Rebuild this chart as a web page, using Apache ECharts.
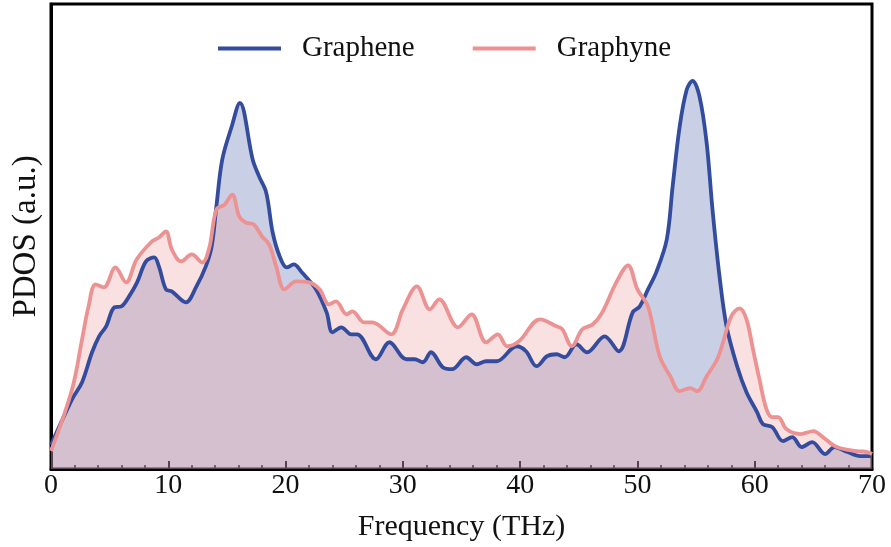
<!DOCTYPE html>
<html>
<head>
<meta charset="utf-8">
<script src="https://cdn.jsdelivr.net/npm/echarts@6/dist/echarts.min.js"></script>
<style>
  html, body { margin: 0; padding: 0; background: #fff; }
  #chart { width: 891px; height: 547px; }
</style>
</head>
<body>
<div id="chart"></div>
<script>
// frequency (THz) and PDOS (a.u.)
const grapheneFreq = [0, 1.8, 2.65, 3.5, 4.1, 4.7, 5.4, 6.0, 6.66, 7.34, 8.1, 8.8, 9.2, 9.8, 10.3, 11.5, 12.4, 13.2, 13.7,
  14.1, 14.6, 15.4, 16.1, 17.2, 17.75, 18.35, 18.9, 19.5, 20.1, 20.7, 21.4, 22.6, 23.5, 24.0, 24.75, 25.6, 26.1,
  27.7, 28.85, 30.3, 31.0, 31.7, 32.4, 33.4, 34.2, 35.4, 36.3, 37.1, 38.0, 39.7, 40.5, 41.4, 42.3, 43.1, 43.8,
  44.8, 45.7, 47.2, 48.4, 49.6, 50.2, 50.9, 51.6, 52.5, 53.0, 53.6, 54.2, 54.7, 55.3, 55.9, 56.4, 57.0, 57.6,
  58.5, 59.3, 60.2, 60.7, 61.5, 62.4, 63.2, 64.0, 64.9, 66.0, 66.8, 67.9, 69.0, 70];
const grapheneVal = [24, 70, 87, 117, 133, 143, 162, 163, 173, 187, 208, 212, 203, 180, 178, 167, 183, 203, 223,
  263, 310, 343, 367, 310, 293, 277, 237, 213, 202, 205, 197, 180, 157, 137, 142, 135, 135,
  110, 127, 110, 110, 107, 117, 102, 100, 112, 105, 108, 108, 123, 118, 103, 113, 115, 112,
  125, 117, 133, 118, 157, 163, 180, 197, 230, 283, 343, 380, 389, 373, 327, 260, 193, 143,
  103, 77, 57, 45, 42, 28, 32, 22, 27, 15, 22, 17, 13, 13];

const graphyneFreq = [0, 1.8, 2.65, 3.2, 3.8, 4.5, 5.5, 6.4, 7.3, 8.6, 9.2, 9.8, 10.3, 11.1, 12.0, 12.9, 13.5,
  14.1, 14.8, 15.45, 16.05, 16.6, 17.3, 18.0, 18.6, 19.2, 19.9, 20.9, 22.0, 22.9, 23.7, 24.3, 25.2, 25.7,
  26.7, 27.4, 29.0, 30.0, 31.2, 32.3, 33.1, 34.7, 35.85, 37.1, 38.1, 38.9, 39.9, 41.7, 43.1, 43.6, 44.4,
  45.3, 46.2, 47.0, 48.2, 49.2, 50.0, 50.9, 51.9, 52.8, 53.6, 54.5, 55.1, 55.9, 56.8, 57.3, 58.0, 58.7,
  59.3, 59.85, 60.4, 61.0, 61.5, 62.0, 62.7, 63.9, 65.0, 65.8, 67.0, 68.7, 69.6, 70];
const graphyneVal = [18, 80, 130, 163, 185, 182, 202, 187, 210, 228, 232, 238, 220, 208, 215, 207, 222,
  260, 265, 275, 253, 247, 245, 233, 225, 203, 180, 188, 187, 180, 165, 168, 155, 158,
  147, 147, 135, 160, 183, 160, 170, 142, 155, 127, 135, 123, 128, 150, 143, 140, 123,
  140, 145, 157, 187, 204, 180, 163, 113, 93, 78, 81, 78, 93, 110, 127, 153, 161,
  150, 120, 90, 60, 52, 52, 40, 35, 38, 32, 22, 18, 17, 15];

const xTicks = [0, 10, 20, 30, 40, 50, 60, 70];

const blue = 'rgb(52,76,158)';
const pink = 'rgb(236,146,146)';

function pairs(xs, ys) {
  return xs.map((x, i) => [x, ys[i]]);
}

const chart = echarts.init(document.getElementById('chart'));
const font = 'Liberation Serif, Times New Roman, serif';

// fills go under both lines, so each curve is drawn twice
function fill(name, xs, ys, color, z) {
  return {
    name: name,
    type: 'line',
    data: pairs(xs, ys),
    smooth: 0.35,
    symbol: 'none',
    lineStyle: { width: 0 },
    areaStyle: { color: color, opacity: 1 },
    silent: true,
    z: z
  };
}

function line(name, xs, ys, color, z) {
  return {
    name: name,
    type: 'line',
    data: pairs(xs, ys),
    smooth: 0.35,
    symbol: 'none',
    lineStyle: { color: color, width: 3.8 },
    itemStyle: { color: color },
    z: z
  };
}

chart.setOption({
  animation: false,
  textStyle: { fontFamily: font },
  grid: {
    left: 51, right: 19, top: 4, bottom: 77,
    show: true,
    borderColor: '#000',
    borderWidth: 3
  },
  legend: {
    left: 213,
    top: 29,
    icon: 'rect',
    itemWidth: 63,
    itemHeight: 4,
    itemGap: 58,
    textStyle: { fontFamily: font, fontSize: 29, color: '#111', padding: [0, 0, 0, 16] },
    data: ['Graphene', 'Graphyne']
  },
  xAxis: {
    type: 'value',
    min: 0,
    max: 70,
    interval: 10,
    name: 'Frequency (THz)',
    nameLocation: 'middle',
    nameGap: 43,
    nameTextStyle: { fontFamily: font, fontSize: 30, color: '#111' },
    axisLine: { show: true, lineStyle: { color: '#000', width: 3 } },
    axisTick: { show: true, inside: true, length: 8, lineStyle: { color: '#000', width: 2 } },
    minorTick: { show: true, splitNumber: 5, length: 4, lineStyle: { color: '#000', width: 1.5 } },
    axisLabel: {
      fontFamily: font, fontSize: 28, color: '#111', margin: 3,
      formatter: v => xTicks.includes(v) ? String(v) : ''
    },
    splitLine: { show: false }
  },
  yAxis: {
    type: 'value',
    min: 0,
    max: 466,
    name: 'PDOS (a.u.)',
    nameLocation: 'middle',
    nameGap: 8,
    nameTextStyle: { fontFamily: font, fontSize: 33, color: '#111' },
    axisLine: { show: true, lineStyle: { color: '#000', width: 3 } },
    axisTick: { show: false },
    axisLabel: { show: false },
    splitLine: { show: false }
  },
  series: [
    fill('Graphene fill', grapheneFreq, grapheneVal, 'rgba(75,98,168,0.3)', 1),
    fill('Graphyne fill', graphyneFreq, graphyneVal, 'rgba(238,157,157,0.3)', 2),
    line('Graphene', grapheneFreq, grapheneVal, blue, 3),
    line('Graphyne', graphyneFreq, graphyneVal, pink, 4)
  ]
});
</script>
</body>
</html>
